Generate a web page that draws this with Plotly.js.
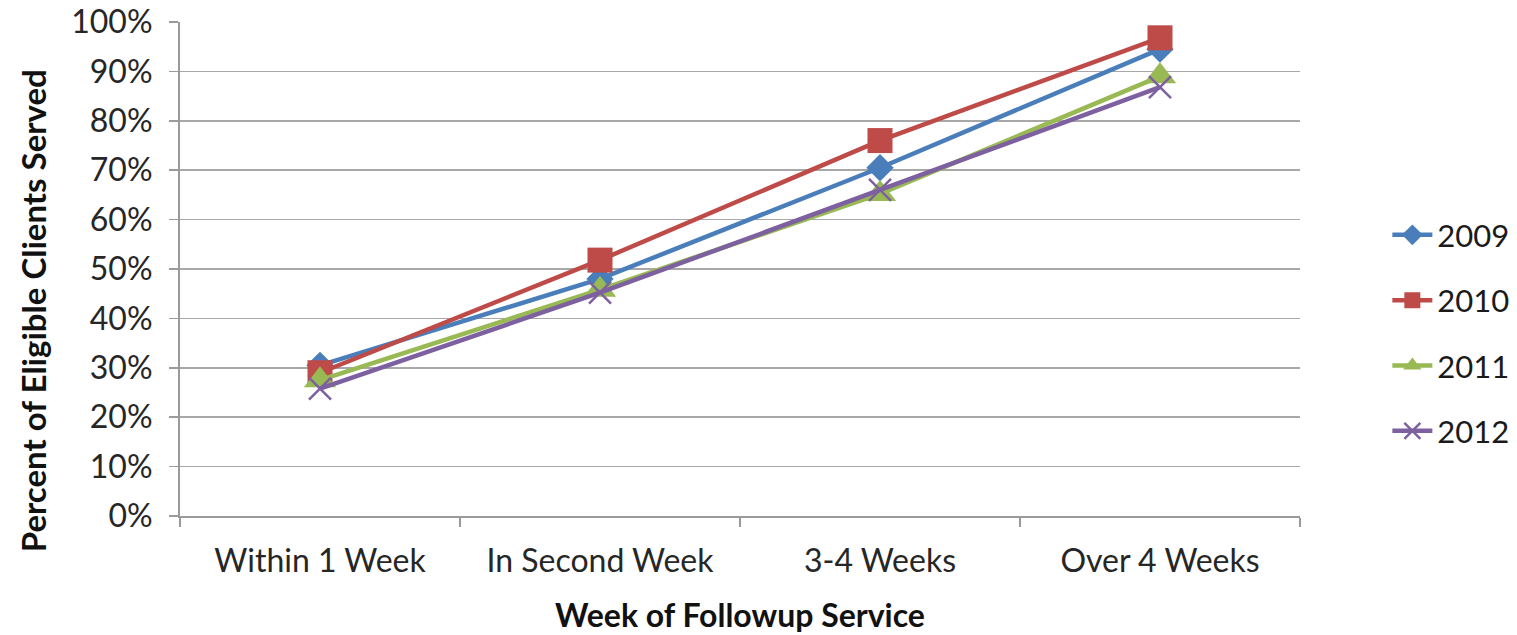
<!DOCTYPE html>
<html>
<head>
<meta charset="utf-8">
<script src="https://cdn.plot.ly/plotly-3.0.1.min.js"></script>
<style>html,body{margin:0;padding:0;background:#fff;}#chart{width:1517px;height:635px;}</style>
</head>
<body>
<div id="chart"></div>
<script>
const categories = ["Within 1 Week", "In Second Week", "3-4 Weeks", "Over 4 Weeks"];
const seriesNames = ["2009", "2010", "2011", "2012"];
const values2009 = [0.305, 0.48, 0.705, 0.945];
const values2010 = [0.29, 0.518, 0.76, 0.968];
const values2011 = [0.275, 0.458, 0.652, 0.89];
const values2012 = [0.258, 0.452, 0.66, 0.868];
const yTickVals = [0, 0.1, 0.2, 0.3, 0.4, 0.5, 0.6, 0.7, 0.8, 0.9, 1.0];

const colors = ["#4A7EBB", "#BE4B48", "#98B954", "#7D60A0"];
const symbols = ["diamond", "square", "triangle-up", "x-thin"];
const sizes = [21, 25, 28, 22];
const allValues = [values2009, values2010, values2011, values2012];

const font = "Lato, 'Open Sans', 'Liberation Sans', sans-serif";

const traces = seriesNames.map((name, i) => ({
  x: categories,
  y: allValues[i],
  name: name,
  legendgroup: "g" + i,
  type: "scatter",
  mode: "lines+markers",
  line: {color: colors[i], width: 4.5},
  marker: {
    symbol: symbols[i],
    size: sizes[i],
    color: colors[i],
    line: {color: colors[i], width: symbols[i] === "x-thin" ? 2.5 : 0}
  }
}));

const layout = {
  width: 1517,
  height: 635,
  margin: {l: 180, r: 217, t: 22, b: 119, autoexpand: false},
  paper_bgcolor: "#ffffff",
  plot_bgcolor: "#ffffff",
  font: {family: font, color: "#262626", size: 32},
  showlegend: true,
  legend: {
    x: 1.078, y: 0.37, xanchor: "left", yanchor: "middle",
    font: {size: 31, color: "#1a1a1a"},
    tracegroupgap: 22, itemwidth: 40,
    bgcolor: "rgba(0,0,0,0)"
  },
  xaxis: {
    type: "category",
    range: [-0.5, 3.5],
    showline: true, linecolor: "#9a9a9a", linewidth: 2,
    ticks: "outside", tickson: "boundaries", ticklen: 9, tickcolor: "#9a9a9a", tickwidth: 1.5,
    showgrid: false,
    ticklabelstandoff: 16,
    tickfont: {size: 32, color: "#262626"},
    title: {text: "<b>Week of Followup Service</b>", font: {size: 32, color: "#111"}, standoff: 26}
  },
  yaxis: {
    range: [0, 1],
    tickvals: yTickVals,
    tickformat: ".0%",
    showline: true, linecolor: "#9a9a9a", linewidth: 2,
    ticks: "outside", ticklen: 9, tickcolor: "#9a9a9a", tickwidth: 1.5,
    showgrid: true, gridcolor: "#a8a8a8", gridwidth: 1.5,
    zeroline: false,
    ticklabelstandoff: 10,
    tickfont: {size: 32, color: "#262626"}
  },
  annotations: [{
    text: "<b>Percent of Eligible Clients Served</b>",
    xref: "paper", yref: "paper",
    x: -0.131, y: 0.415, xanchor: "center", yanchor: "middle",
    textangle: -90, showarrow: false,
    font: {size: 33, color: "#111", family: font}
  }]
};

Plotly.newPlot("chart", traces, layout, {displayModeBar: false, staticPlot: true});
</script>
</body>
</html>
